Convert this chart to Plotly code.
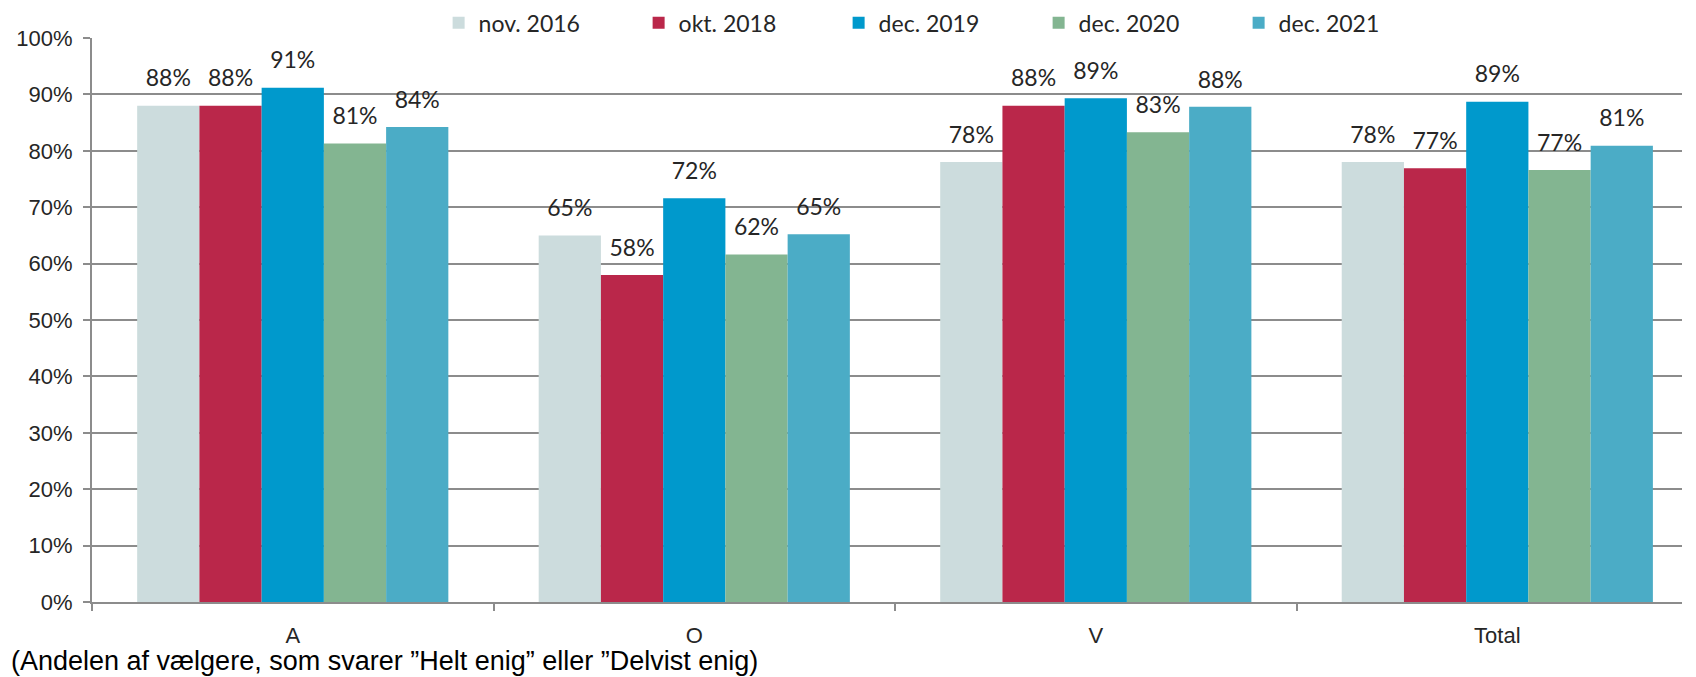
import plotly.graph_objects as go

# categories and series
categories = ["A", "O", "V", "Total"]
series_names = ["nov. 2016", "okt. 2018", "dec. 2019", "dec. 2020", "dec. 2021"]
colors = ["#CCDCDD", "#BA274A", "#0099CC", "#83B591", "#4BACC6"]

nov_2016 = [0.880, 0.650, 0.780, 0.780]
okt_2018 = [0.880, 0.580, 0.880, 0.769]
dec_2019 = [0.912, 0.716, 0.893, 0.887]
dec_2020 = [0.813, 0.616, 0.833, 0.766]
dec_2021 = [0.842, 0.652, 0.878, 0.809]

all_values = [nov_2016, okt_2018, dec_2019, dec_2020, dec_2021]

y_ticks = [0, 0.1, 0.2, 0.3, 0.4, 0.5, 0.6, 0.7, 0.8, 0.9, 1.0]
footnote = "(Andelen af vælgere, som svarer ”Helt enig” eller ”Delvist enig)"

axis_font = "Liberation Sans, Arial"
label_font = "Lato, Carlito, Calibri, Open Sans"
grid_col = "#8C8C8C"
gap = 0.225

fig = go.Figure()
for name, vals, col in zip(series_names, all_values, colors):
    fig.add_trace(go.Bar(
        x=categories, y=vals, name=name,
        marker=dict(color=col, line=dict(width=0)),
    ))

# value labels, grouped like the bars
for name, vals in zip(series_names, all_values):
    fig.add_trace(go.Scatter(
        x=categories, y=vals,
        mode="markers+text",
        text=[f"{v:.0%}" for v in vals],
        textposition="top center",
        textfont=dict(family=label_font, size=23, color="#262626"),
        marker=dict(size=20, color="rgba(0,0,0,0)"),
        showlegend=False, hoverinfo="skip",
    ))

# page body has an 8px margin top/left, so the figure is offset by it
fig.update_layout(
    width=1688, height=669,
    margin=dict(l=84, r=14, t=30, b=75, autoexpand=False),
    paper_bgcolor="white", plot_bgcolor="white",
    barmode="group", bargap=gap, bargroupgap=0,
    scattermode="group", scattergap=gap,
    legend=dict(
        orientation="h", x=0.218, xanchor="left", y=1.027, yanchor="middle",
        font=dict(family=label_font, size=23, color="#262626"),
        entrywidth=155, entrywidthmode="pixels",
        itemwidth=30, tracegroupgap=0,
    ),
    annotations=[dict(
        text=footnote, xref="paper", yref="paper",
        x=-0.0525, y=-0.105, xanchor="left", yanchor="middle", showarrow=False,
        font=dict(family=axis_font, size=27, color="#000000"),
    )],
)

fig.update_xaxes(
    type="category", range=[-0.5, 3.46],
    showline=True, linecolor=grid_col, linewidth=2,
    ticks="outside", tickson="boundaries", ticklen=7, tickcolor=grid_col, tickwidth=2,
    tickfont=dict(family=axis_font, size=22, color="#262626"),
    ticklabelstandoff=13,
    showgrid=False,
)
fig.update_yaxes(
    range=[0, 1.0], tickvals=y_ticks, tickformat=".0%",
    showline=True, linecolor=grid_col, linewidth=2,
    ticks="outside", ticklen=7, tickcolor=grid_col, tickwidth=2,
    tickfont=dict(family=axis_font, size=22, color="#262626"),
    ticklabelstandoff=6,
    showgrid=True, gridcolor=grid_col, gridwidth=2,
    zeroline=False,
)

fig.write_html("out.html")
